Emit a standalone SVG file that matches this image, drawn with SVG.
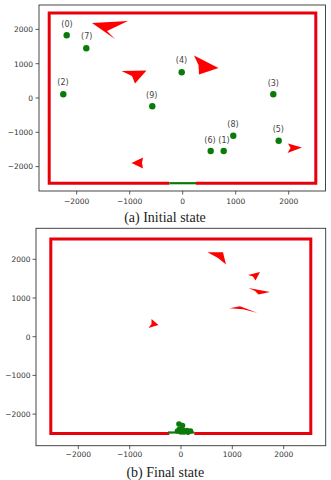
<svg xmlns="http://www.w3.org/2000/svg" width="331" height="480" viewBox="0 0 331 480">
<style>
.frame{fill:none;stroke:#333;stroke-width:0.9}
.tick{stroke:#333;stroke-width:0.8}
.tl{font-family:"DejaVu Sans",sans-serif;font-size:7.5px;fill:#333}
.tlx{text-anchor:middle}
.tly{text-anchor:end}
.wall{fill:none;stroke:#e8000b;stroke-width:3}
.goal{stroke:#0a7a0a;stroke-width:2.2}
.robot{fill:#0a7a0a}
.lab{font-family:"DejaVu Sans",sans-serif;font-size:8px;fill:#444;text-anchor:middle}
.obs{fill:#ff0000}
.cap{font-family:"Liberation Serif","Times New Roman",serif;font-size:14px;fill:#222;text-anchor:middle}
</style>
<rect width="331" height="480" fill="#fff"/>

<!-- Panel (a) -->
<g id="panel-a">
  <rect class="frame" x="39" y="5" width="286.5" height="186"/>
  <g id="ticks-a">
    <line class="tick" x1="76.7" y1="191" x2="76.7" y2="194.5"/>
    <line class="tick" x1="129.7" y1="191" x2="129.7" y2="194.5"/>
    <line class="tick" x1="182.7" y1="191" x2="182.7" y2="194.5"/>
    <line class="tick" x1="235.7" y1="191" x2="235.7" y2="194.5"/>
    <line class="tick" x1="288.7" y1="191" x2="288.7" y2="194.5"/>
    <line class="tick" x1="35.5" y1="29.4" x2="39" y2="29.4"/>
    <line class="tick" x1="35.5" y1="63.7" x2="39" y2="63.7"/>
    <line class="tick" x1="35.5" y1="98" x2="39" y2="98"/>
    <line class="tick" x1="35.5" y1="132.3" x2="39" y2="132.3"/>
    <line class="tick" x1="35.5" y1="166.6" x2="39" y2="166.6"/>
    <text class="tl tlx" x="76.7" y="203.5">−2000</text>
    <text class="tl tlx" x="129.7" y="203.5">−1000</text>
    <text class="tl tlx" x="182.7" y="203.5">0</text>
    <text class="tl tlx" x="235.7" y="203.5">1000</text>
    <text class="tl tlx" x="288.7" y="203.5">2000</text>
    <text class="tl tly" x="33" y="32.2">2000</text>
    <text class="tl tly" x="33" y="66.5">1000</text>
    <text class="tl tly" x="33" y="100.8">0</text>
    <text class="tl tly" x="33" y="135.1">−1000</text>
    <text class="tl tly" x="33" y="169.4">−2000</text>
  </g>
  <g id="walls-a">
    <polyline class="wall" points="169.4,183.2 49.2,183.2 49.2,13 315.8,13 315.8,183.2 196,183.2"/>
    <line class="goal" x1="169.4" y1="183.2" x2="196" y2="183.2"/>
  </g>
  <g id="obstacles-a">
    <polygon class="obs" points="92,23 128,21 107,31 115,39"/>
    <polygon class="obs" points="121.5,71 146.5,70.5 135,83.5 132,76"/>
    <polygon class="obs" points="194,55.5 218.5,68 199,74.5 198.5,65"/>
    <polygon class="obs" points="131.5,163 143,157.5 142,163 143,168.5"/>
    <polygon class="obs" points="288,143.5 302,147.5 287.5,153 290.5,148"/>
  </g>
  <g id="robot-0"><circle class="robot" cx="66.7" cy="35.3" r="3.2"/><text class="lab" x="67" y="26.5">(0)</text></g>
  <g id="robot-7"><circle class="robot" cx="86.3" cy="48.3" r="3.2"/><text class="lab" x="86.7" y="39.3">(7)</text></g>
  <g id="robot-4"><circle class="robot" cx="181.7" cy="72.3" r="3.2"/><text class="lab" x="181.5" y="63.3">(4)</text></g>
  <g id="robot-2"><circle class="robot" cx="63.3" cy="94.3" r="3.2"/><text class="lab" x="63" y="85">(2)</text></g>
  <g id="robot-9"><circle class="robot" cx="152.3" cy="106.3" r="3.2"/><text class="lab" x="151.7" y="98.3">(9)</text></g>
  <g id="robot-3"><circle class="robot" cx="273.3" cy="94.3" r="3.2"/><text class="lab" x="273.3" y="86.3">(3)</text></g>
  <g id="robot-8"><circle class="robot" cx="233.3" cy="135.7" r="3.2"/><text class="lab" x="233" y="127.3">(8)</text></g>
  <g id="robot-6"><circle class="robot" cx="210.7" cy="151" r="3.2"/><text class="lab" x="210" y="142.6">(6)</text></g>
  <g id="robot-1"><circle class="robot" cx="223.7" cy="151" r="3.2"/><text class="lab" x="224" y="142.6">(1)</text></g>
  <g id="robot-5"><circle class="robot" cx="278.7" cy="140.7" r="3.2"/><text class="lab" x="278.3" y="131.6">(5)</text></g>
  <text class="cap" x="165" y="221.5">(a) Initial state</text>
</g>

<!-- Panel (b) -->
<g id="panel-b">
  <rect class="frame" x="36" y="228.3" width="289.7" height="217.4"/>
  <g id="ticks-b">
    <line class="tick" x1="78.3" y1="445.7" x2="78.3" y2="449.2"/>
    <line class="tick" x1="129.7" y1="445.7" x2="129.7" y2="449.2"/>
    <line class="tick" x1="181" y1="445.7" x2="181" y2="449.2"/>
    <line class="tick" x1="232.3" y1="445.7" x2="232.3" y2="449.2"/>
    <line class="tick" x1="283.7" y1="445.7" x2="283.7" y2="449.2"/>
    <line class="tick" x1="32.5" y1="259.3" x2="36" y2="259.3"/>
    <line class="tick" x1="32.5" y1="298" x2="36" y2="298"/>
    <line class="tick" x1="32.5" y1="336.7" x2="36" y2="336.7"/>
    <line class="tick" x1="32.5" y1="375.4" x2="36" y2="375.4"/>
    <line class="tick" x1="32.5" y1="414.1" x2="36" y2="414.1"/>
    <text class="tl tlx" x="78.3" y="457">−2000</text>
    <text class="tl tlx" x="129.7" y="457">−1000</text>
    <text class="tl tlx" x="181" y="457">0</text>
    <text class="tl tlx" x="232.3" y="457">1000</text>
    <text class="tl tlx" x="283.7" y="457">2000</text>
    <text class="tl tly" x="30.5" y="262.1">2000</text>
    <text class="tl tly" x="30.5" y="300.8">1000</text>
    <text class="tl tly" x="30.5" y="339.5">0</text>
    <text class="tl tly" x="30.5" y="378.2">−1000</text>
    <text class="tl tly" x="30.5" y="416.9">−2000</text>
  </g>
  <g id="walls-b">
    <polyline class="wall" points="169.3,433.5 50.8,433.5 50.8,239 310.8,239 310.8,433.5 194.3,433.5"/>
    <line class="goal" x1="168" y1="432.5" x2="194.3" y2="432.5"/>
  </g>
  <g id="obstacles-b">
    <polygon class="obs" points="207.5,252.3 223,252.3 226,264.5 218,258"/>
    <polygon class="obs" points="248,275 260,272 255.5,280.5 253,276.5"/>
    <polygon class="obs" points="248.5,288 270,292 258.5,294.5 255,291"/>
    <polygon class="obs" points="229.5,308.3 240,306.3 257,312.8 243,309.3"/>
    <polygon class="obs" points="151.5,319 158.5,325 148.5,328 151.5,324"/>
  </g>
  <g id="robots-b">
    <circle class="robot" cx="179" cy="424" r="2.8"/>
    <circle class="robot" cx="182.5" cy="425.5" r="2.8"/>
    <circle class="robot" cx="179.5" cy="429" r="2.8"/>
    <circle class="robot" cx="183" cy="430" r="2.8"/>
    <circle class="robot" cx="187" cy="430.5" r="2.8"/>
    <circle class="robot" cx="190.5" cy="431" r="2.8"/>
    <circle class="robot" cx="177.5" cy="431" r="2.8"/>
    <circle class="robot" cx="184" cy="432" r="2.8"/>
    <circle class="robot" cx="181" cy="432" r="2.8"/>
    <circle class="robot" cx="188" cy="432.5" r="2.5"/>
  </g>
  <text class="cap" x="165.3" y="477">(b) Final state</text>
</g>
</svg>
